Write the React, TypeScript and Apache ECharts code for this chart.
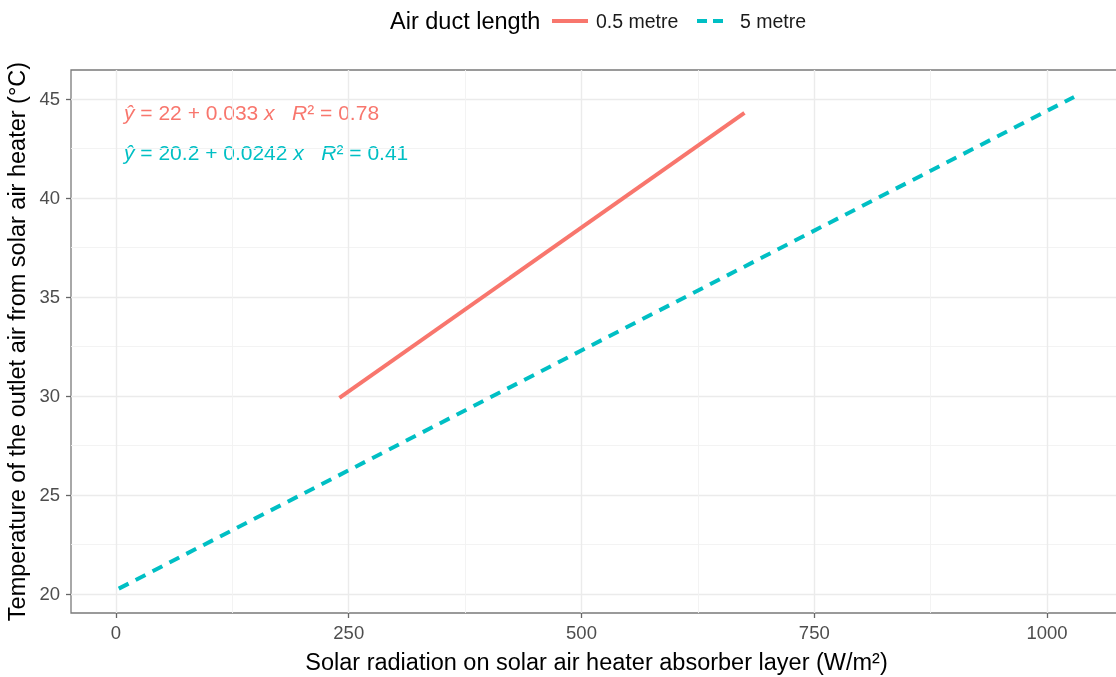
import React, { useEffect, useRef } from "react";
import * as echarts from "echarts";

const seriesNames = ["0.5 metre", "5 metre"];
const shortDuctX = [240, 675];
const shortDuctY = [29.9, 44.3];
const longDuctX = [3, 1029];
const longDuctY = [20.27, 45.1];
const xTicks = [0, 250, 500, 750, 1000];
const yTicks = [20, 25, 30, 35, 40, 45];
const equations = [
  { eq: ["22", "0.033"], r2: "0.78" },
  { eq: ["20.2", "0.0242"], r2: "0.41" },
];

const RED = "#F8766D";
const CYAN = "#00BFC4";
const FONT = "Liberation Sans, Arial, sans-serif";

export default function App() {
  const ref = useRef<HTMLDivElement>(null);
  useEffect(() => {
    document.body.style.margin = "0";
    const chart = echarts.init(ref.current!, null, { renderer: "svg" });
    const eqText = (i: number) =>
      `{i|ŷ}{n| = ${equations[i].eq[0]} + ${equations[i].eq[1]} }{i|x}{n|   }{i|R}{n|² = ${equations[i].r2}}`;
    const eqRich = (color: string) => ({
      i: { fontStyle: "italic", fontSize: 21, fill: color, fontFamily: FONT },
      n: { fontSize: 21, fill: color, fontFamily: FONT },
    });
    chart.setOption({
      animation: false,
      textStyle: { fontFamily: FONT },
      grid: {
        left: 71,
        top: 70,
        width: 1051,
        height: 543,
        show: true,
        borderColor: "#7a7a7a",
        borderWidth: 1.3,
        backgroundColor: "#fff",
        containLabel: false,
        outerBoundsMode: "none",
      },
      xAxis: {
        type: "value",
        min: -48.3,
        max: 1080.5,
        minInterval: 250,
        maxInterval: 250,
        axisLine: { show: false, onZero: false },
        axisTick: { show: true, length: 5, lineStyle: { color: "#666", width: 1.3 }, customValues: xTicks },
        axisLabel: { color: "#4D4D4D", fontSize: 18.5, margin: 10, customValues: xTicks, formatter: (v: number) => String(v) },
        splitLine: { show: true, lineStyle: { color: "#EBEBEB", width: 1.4 } },
        minorTick: { show: false, splitNumber: 2 },
        minorSplitLine: { show: true, lineStyle: { color: "#F2F2F2", width: 0.9 } },
        name: "Solar radiation on solar air heater absorber layer (W/m²)",
        nameLocation: "middle",
        nameGap: 37,
        nameTextStyle: { color: "#000", fontSize: 23.5, fontFamily: FONT },
      },
      yAxis: {
        type: "value",
        min: 19.04,
        max: 46.46,
        minInterval: 5,
        maxInterval: 5,
        axisLine: { show: false, onZero: false },
        axisTick: { show: true, length: 5, lineStyle: { color: "#666", width: 1.3 }, customValues: yTicks },
        axisLabel: { color: "#4D4D4D", fontSize: 18.5, margin: 11, customValues: yTicks, formatter: (v: number) => String(v) },
        splitLine: { show: true, lineStyle: { color: "#EBEBEB", width: 1.4 } },
        minorTick: { show: false, splitNumber: 2 },
        minorSplitLine: { show: true, lineStyle: { color: "#F2F2F2", width: 0.9 } },
        name: "Temperature of the outlet air from solar air heater (°C)",
        nameLocation: "middle",
        nameRotate: 90,
        nameGap: 36,
        nameTextStyle: { color: "#000", fontSize: 23.5, fontFamily: FONT },
      },
      series: [
        {
          name: seriesNames[0],
          type: "line",
          symbol: "none",
          data: shortDuctX.map((x, i) => [x, shortDuctY[i]]),
          lineStyle: { color: RED, width: 4, cap: "butt" },
        },
        {
          name: seriesNames[1],
          type: "line",
          symbol: "none",
          data: longDuctX.map((x, i) => [x, longDuctY[i]]),
          lineStyle: { color: CYAN, width: 4, type: [11, 8], cap: "butt" },
        },
      ],
      graphic: [
        { type: "text", x: 390, y: 21, style: { text: "Air duct length", fontSize: 23.5, fill: "#000", fontFamily: FONT, verticalAlign: "middle" } },
        { type: "line", shape: { x1: 552, y1: 21, x2: 588, y2: 21 }, style: { stroke: RED, lineWidth: 4 } },
        { type: "text", x: 596, y: 21, style: { text: seriesNames[0], fontSize: 19.5, fill: "#1a1a1a", fontFamily: FONT, verticalAlign: "middle" } },
        { type: "line", shape: { x1: 697, y1: 21, x2: 724, y2: 21 }, style: { stroke: CYAN, lineWidth: 4, lineDash: [10, 6] } },
        { type: "text", x: 740, y: 21, style: { text: seriesNames[1], fontSize: 19.5, fill: "#1a1a1a", fontFamily: FONT, verticalAlign: "middle" } },
        { type: "text", x: 124, y: 112, style: { text: eqText(0), rich: eqRich(RED), fill: RED, verticalAlign: "middle" } },
        { type: "text", x: 124, y: 152, style: { text: eqText(1), rich: eqRich(CYAN), fill: CYAN, verticalAlign: "middle" } },
      ],
    });
    return () => chart.dispose();
  }, []);
  return <div ref={ref} style={{ width: 1116, height: 677, position: "fixed", left: 0, top: 0 }} />;
}
